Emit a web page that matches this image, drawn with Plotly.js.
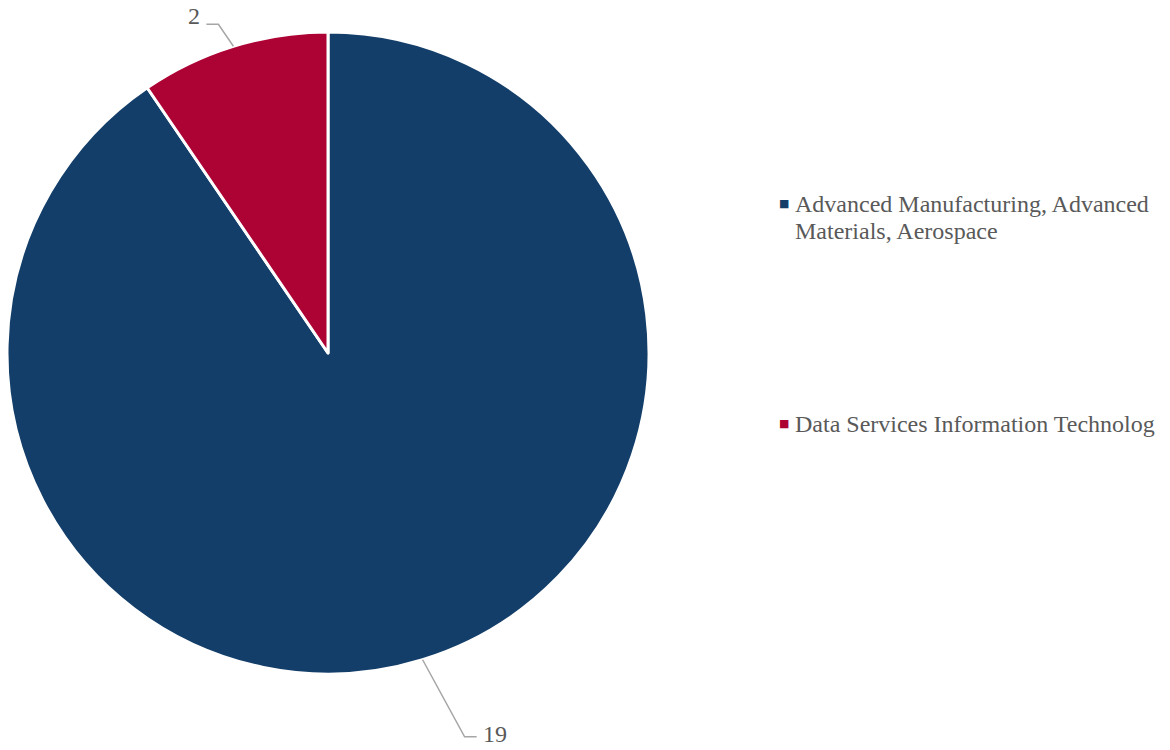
<!DOCTYPE html>
<html>
<head>
<meta charset="utf-8">
<script src="https://cdn.plot.ly/plotly-3.0.1.min.js"></script>
<style>html,body{margin:0;padding:0;background:#fff;}#chart{width:1170px;height:750px;}</style>
</head>
<body>
<div id="chart"></div>
<script>
var categories = ["Advanced Manufacturing, Advanced Materials, Aerospace", "Data Services Information Technolog"];
var legendLines = [["Advanced Manufacturing, Advanced", "Materials, Aerospace"], ["Data Services Information Technolog"]];
var values = [19, 2];
var colors = ["#133E69", "#AD0234"];

var W = 1170, H = 750;
var cx = 328, cy = 353, R = 321;
var textColor = "#595959";
var font = "Liberation Serif";

function px2x(p){ return p / W; }
function py2y(p){ return 1 - p / H; }

var trace = {
  type: "pie",
  labels: categories,
  values: values,
  sort: false,
  direction: "clockwise",
  rotation: 0,
  textinfo: "none",
  hoverinfo: "label+value",
  marker: { colors: colors, line: { color: "#ffffff", width: 3 } },
  domain: { x: [px2x(cx - R), px2x(cx + R)], y: [py2y(cy + R), py2y(cy - R)] },
  showlegend: false
};

// Leader lines and labels computed from slice midpoint angles
var total = values.reduce(function(a,b){return a+b;}, 0);
var shapes = [], annotations = [];
var leader = [
  { ex: 42, ey: 77, run: 12, ly: -3 },
  { ex: -15, ey: -22, run: 12, ly: -8 }
];
var cum = 0;
values.forEach(function(v, i){
  var mid = (cum + v/2) / total * 2 * Math.PI;
  cum += v;
  var sx = Math.sin(mid), sy = -Math.cos(mid);
  var px = cx + R * sx, py = cy + R * sy;
  var g = leader[i];
  var exx = px + g.ex, eyy = py + g.ey;
  var dir = sx >= 0 ? 1 : -1;
  var hx = exx + dir * g.run;
  shapes.push({
    type: "path", xref: "paper", yref: "paper",
    path: "M" + px2x(px) + "," + py2y(py) + " L" + px2x(exx) + "," + py2y(eyy) + " L" + px2x(hx) + "," + py2y(eyy),
    line: { color: "#A6A6A6", width: 1.5 }
  });
  annotations.push({
    xref: "paper", yref: "paper",
    x: px2x(hx + dir * 4), y: py2y(eyy + g.ly),
    xanchor: dir > 0 ? "left" : "right", yanchor: "middle",
    text: String(v), showarrow: false,
    font: { family: font, size: 24, color: textColor }
  });
});

// Legend
var legendY = [203.5, 423.5];
var lineStep = 28;
legendLines.forEach(function(lines, i){
  annotations.push({
    xref: "paper", yref: "paper", x: px2x(777), y: py2y(legendY[i]),
    xanchor: "left", yanchor: "middle", text: "■", showarrow: false,
    font: { family: "DejaVu Sans", size: 11, color: colors[i] }
  });
  lines.forEach(function(t, j){
    annotations.push({
      xref: "paper", yref: "paper", x: px2x(793), y: py2y(legendY[i] + j * lineStep),
      xanchor: "left", yanchor: "middle", align: "left", text: t, showarrow: false,
      font: { family: font, size: 24, color: textColor }
    });
  });
});

var layout = {
  width: W, height: H,
  margin: { l: 0, r: 0, t: 0, b: 0 },
  paper_bgcolor: "#ffffff",
  showlegend: false,
  shapes: shapes,
  annotations: annotations
};

Plotly.newPlot("chart", [trace], layout, { displayModeBar: false, staticPlot: true });
</script>
</body>
</html>
